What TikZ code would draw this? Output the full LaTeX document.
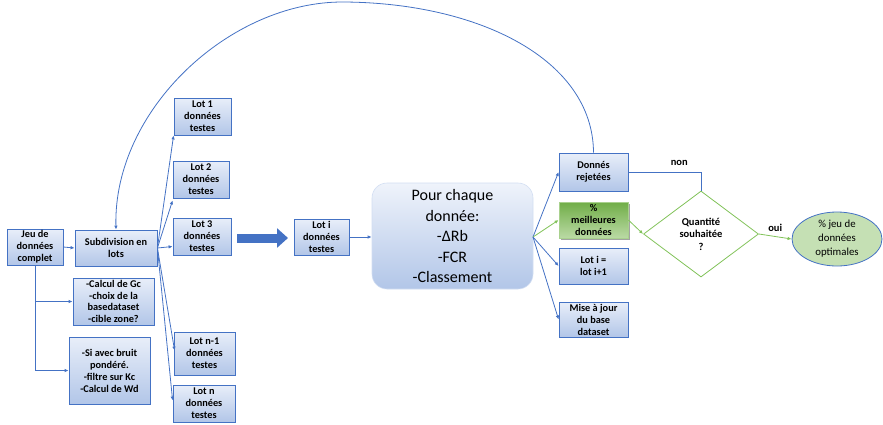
\documentclass[tikz,border=0pt]{standalone}
\usepackage{fontspec}
\setmainfont{Carlito}
\usetikzlibrary{shapes.geometric,arrows.meta,shadows,calc}
\definecolor{bblue}{RGB}{68,114,196}
\definecolor{ftop}{RGB}{232,238,249}
\definecolor{fbot}{RGB}{178,198,232}
\definecolor{gdark}{RGB}{112,173,71}
\definecolor{glight}{RGB}{169,209,142}
\definecolor{gline}{RGB}{130,195,90}
\definecolor{efill}{RGB}{197,224,180}
\tikzset{
  bx/.style={draw=bblue, line width=0.8pt, top color=ftop, bottom color=fbot, align=center,
    inner sep=1pt, font=\fontsize{10.3}{12}\selectfont\bfseries},
  bigbox/.style={draw=ftop!60!fbot, line width=0.6pt, rounded corners=15pt, top color=ftop!70!white,
    bottom color=fbot, align=center, font=\fontsize{16}{20.5}\selectfont},
  gbox/.style={draw=glight, line width=0.8pt, top color=gdark, bottom color=glight!80!white,
    align=center, inner sep=1pt, font=\fontsize{10.3}{12}\selectfont\bfseries,
    drop shadow={shadow xshift=1.5pt, shadow yshift=-1.5pt, fill=black!60, opacity=0.6}},
  ar/.style={draw=bblue, line width=0.8pt, -{Latex[length=4pt,width=3.5pt]}},
  gar/.style={draw=gline, line width=0.8pt, -{Latex[length=4pt,width=3.5pt]}},
  bigar/.style={draw=bblue, line width=9pt, -{Triangle[length=11pt,width=19pt]}},
  lbl/.style={font=\fontsize{10.5}{12}\selectfont\bfseries}
}
\begin{document}
\begin{tikzpicture}[x=1pt,y=-1pt]
\useasboundingbox (0,0) rectangle (883,424);
% left boxes
\node[bx, minimum width=56pt, minimum height=36pt] (jeu) at (35,247) {Jeu de\\données\\complet};
\node[bx, minimum width=82pt, minimum height=36pt] (sub) at (116,248) {Subdivision en\\lots};
\node[bx, minimum width=81pt, minimum height=47pt, font=\fontsize{10.3}{11.7}\selectfont\bfseries] (calc) at (113.5,301.5) {-Calcul de Gc\\-choix de la\\basedataset\\-cible zone?};
\node[bx, minimum width=81pt, minimum height=67pt] (bruit) at (109.5,370.5) {-Si avec bruit\\pondéré.\\-filtre sur Kc\\-Calcul de Wd};
% lots
\node[bx, minimum width=57pt, minimum height=37pt] (lot1) at (202.5,116.5) {Lot 1\\données\\testes};
\node[bx, minimum width=56pt, minimum height=37pt] (lot2) at (201,179.5) {Lot 2\\données\\testes};
\node[bx, minimum width=58pt, minimum height=37pt] (lot3) at (202,236.5) {Lot 3\\données\\testes};
\node[bx, minimum width=61pt, minimum height=43pt] (lotn1) at (204.5,353.5) {Lot n-1\\données\\testes};
\node[bx, minimum width=62pt, minimum height=37pt] (lotn) at (204,403.5) {Lot n\\données\\testes};
\node[bx, minimum width=55pt, minimum height=36pt] (loti) at (321.5,237) {Lot i\\données\\testes};
% big arrow
\coordinate (ba) at (237,238);
\coordinate (bb) at (288,238);
\draw[bigar] (ba) -- (bb);
% main box
\node[bigbox, minimum width=161pt, minimum height=106pt] (pour) at (452.5,236) {Pour chaque\\donnée:\\-ΔRb\\-FCR\\-Classement};
% right boxes
\node[bx, minimum width=69pt, minimum height=38pt] (rej) at (593.5,172) {Donnés\\rejetées};
\node[gbox, minimum width=69pt, minimum height=36pt] (meil) at (593.5,220) {\%\\meilleures\\données};
\node[bx, minimum width=69pt, minimum height=36pt] (lotip) at (593.5,266) {Lot i =\\lot i+1};
\node[bx, minimum width=69pt, minimum height=35pt] (mise) at (593.5,319.5) {Mise à jour\\du base\\dataset};
\node[diamond, draw=gline, line width=0.8pt, fill=white, inner sep=0pt, minimum width=115pt, minimum height=86pt,
  align=center, font=\fontsize{10.5}{12.5}\selectfont\bfseries] (dia) at (701,234) {Quantité\\souhaitée\\?};
\node[ellipse, draw=bblue, line width=0.8pt, fill=efill, minimum width=90pt, minimum height=54pt, inner sep=0pt,
  align=center, font=\fontsize{10.8}{14}\selectfont] (opt) at (837,239) {\% jeu de\\données\\optimales};
% connectors left
\draw[ar] (jeu.east) -- (sub.west);
\coordinate (j1) at (jeu.south |- calc.west);
\coordinate (j2) at (jeu.south |- bruit.west);
\draw[bblue, line width=0.8pt] (jeu.south) -- (j2);
\draw[ar] (j1) -- (calc.west);
\draw[ar] (j2) -- (bruit.west);
% fan to lots
\draw[ar] (sub.east) -- (lot1.south west);
\draw[ar] (sub.east) -- ($(lot2.south west)+(0,2)$);
\draw[ar] (sub.east) -- ($(lot3.west)+(0,10)$);
\draw[ar] (sub.east) -- ($(lotn1.west)+(1,-3)$);
\draw[ar] (sub.east) -- ($(lotn.west)+(0,-3)$);
\draw[ar] (loti.east) -- (pour.west |- loti.east);
% fan to right
\coordinate (pe) at (533,237);
\draw[ar] (pe) -- (rej.west);
\draw[gar] (pe) -- (meil.west);
\draw[ar] (pe) -- (lotip.west);
\draw[ar] (pe) -- (mise.west);
\draw[gar] (meil.east) -- (dia.west);
\draw[bblue, line width=0.8pt] (rej.east) -| (dia.north) node[pos=0.35, above=3pt, lbl, black] {non};
\draw[gar] (dia.east) -- (opt.west) node[midway, above=1pt, lbl, black] {oui};
% loop arc
\draw[ar] (rej.north) .. controls (593,60) and (480,3) .. (344,2) .. controls (230,1) and (113,110) .. (sub.north);
\end{tikzpicture}
\end{document}
